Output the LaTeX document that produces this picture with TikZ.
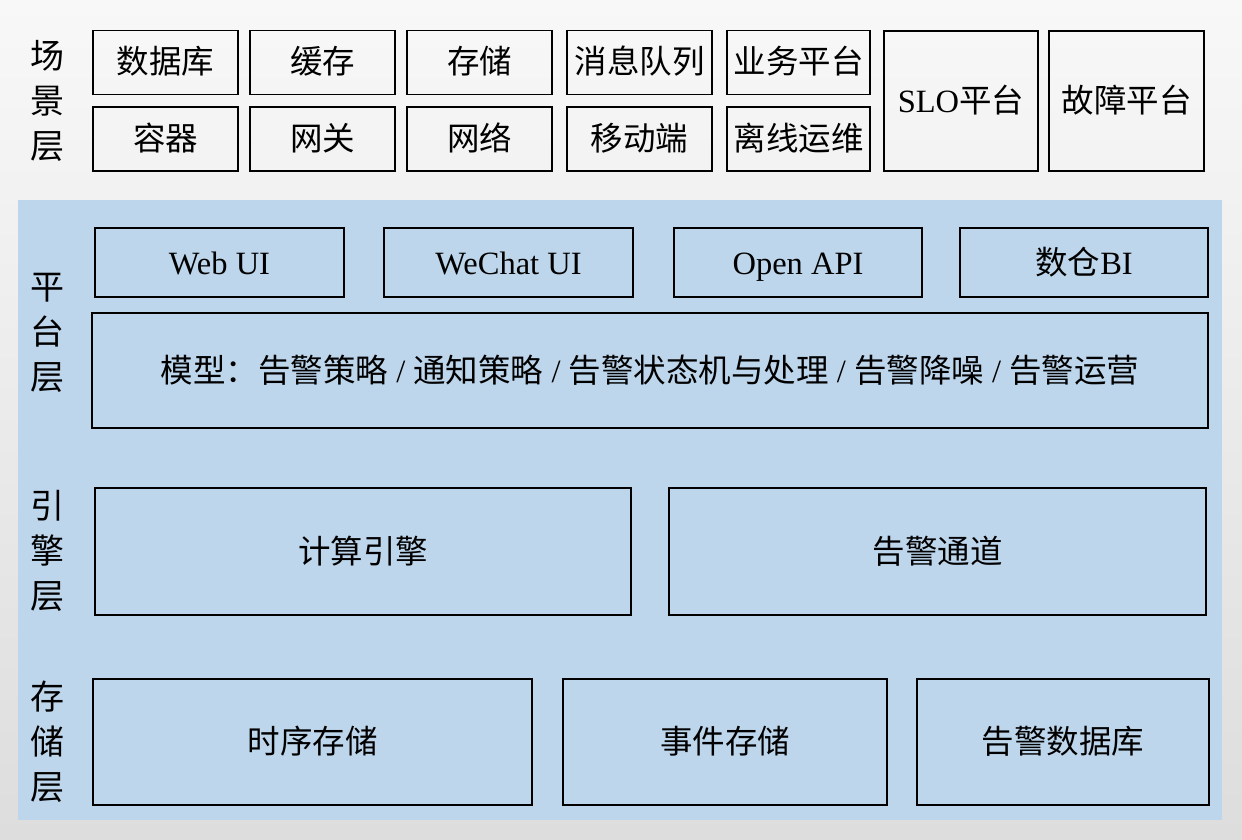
\documentclass[tikz,border=0pt]{standalone}
\usepackage{fontspec}
\setmainfont{Liberation Serif}
\newfontfamily\cjk{Noto Sans CJK SC}
\usetikzlibrary{positioning}
\definecolor{panelblue}{RGB}{189,214,236}
\definecolor{bgtop}{RGB}{248,248,248}
\definecolor{bgbottom}{RGB}{221,221,221}
\newcommand{\boxfont}{\fontsize{32.5}{38}\selectfont}
\tikzstyle{box}=[rectangle,draw=black,line width=1.8pt,inner sep=0pt,outer sep=0pt,text centered,text height=26.5pt,text depth=3.5pt,font=\boxfont]
\tikzstyle{scene}=[box,minimum width=145pt,minimum height=64pt]
\tikzstyle{tall}=[box,minimum width=154pt,minimum height=140pt]
\tikzstyle{plat}=[box,minimum width=249pt,minimum height=69pt]
\tikzstyle{engine}=[box,minimum width=536pt,minimum height=127pt]
\tikzstyle{store}=[box,minimum height=126pt]
\tikzstyle{layer}=[inner sep=0pt,align=center,font=\cjk\fontsize{34}{45}\selectfont]

\begin{document}
\begin{tikzpicture}[x=1pt,y=-1pt,node distance=12pt]

\shade [top color=bgtop,bottom color=bgbottom] (0,0) rectangle (1242,840) ;
\useasboundingbox (0,0) rectangle (1242,840) ;
\fill [panelblue] (18,200) rectangle (1222,820) ;

% scene layer
\node (scenelbl) [layer] at (47,101) {场\\景\\层} ;
\node (db) [scene] at (165.5,62.5) {\cjk 数据库} ;
\node (cache) [scene,right=of db] {\cjk 缓存} ;
\node (stor) [scene,right=of cache] {\cjk 存储} ;
\node (mq) [scene,right=15pt of stor] {\cjk 消息队列} ;
\node (biz) [scene,right=15pt of mq,minimum width=143pt] {\cjk 业务平台} ;
\node (ctr) [scene] at (165.5,139) {\cjk 容器} ;
\node (gw) [scene,right=of ctr] {\cjk 网关} ;
\node (net) [scene,right=of gw] {\cjk 网络} ;
\node (mob) [scene,right=15pt of net] {\cjk 移动端} ;
\node (ops) [scene,right=15pt of mob,minimum width=143pt] {\cjk 离线运维} ;
\node (slo) [tall] at (961,101) {SLO{\cjk 平台}} ;
\node (fault) [tall,right=11pt of slo,minimum width=155pt] {\cjk 故障平台} ;

% platform layer
\node (platlbl) [layer] at (47,333) {平\\台\\层} ;
\node (webui) [plat] at (219.5,262.5) {Web UI} ;
\node (wechat) [plat,right=40pt of webui] {WeChat UI} ;
\node (api) [plat,right=41pt of wechat,minimum width=248pt] {Open API} ;
\node (bi) [plat,right=38pt of api,minimum width=248pt] {{\cjk 数仓}BI} ;
\node (model) [box,minimum width=1116pt,minimum height=115pt] at (650,370.5)
  {{\cjk 模型：告警策略} / {\cjk 通知策略} / {\cjk 告警状态机与处理} / {\cjk 告警降噪} / {\cjk 告警运营}} ;

% engine layer
\node (englbl) [layer] at (47,551) {引\\擎\\层} ;
\node (calc) [engine] at (363,551.5) {\cjk 计算引擎} ;
\node (chan) [engine,right=38pt of calc,minimum width=537pt] {\cjk 告警通道} ;

% storage layer
\node (storlbl) [layer] at (47,742) {存\\储\\层} ;
\node (tsdb) [store,minimum width=439pt] at (312.5,742) {\cjk 时序存储} ;
\node (event) [store,right=31pt of tsdb,minimum width=324pt] {\cjk 事件存储} ;
\node (alertdb) [store,right=30pt of event,minimum width=292pt] {\cjk 告警数据库} ;

\end{tikzpicture}
\end{document}
